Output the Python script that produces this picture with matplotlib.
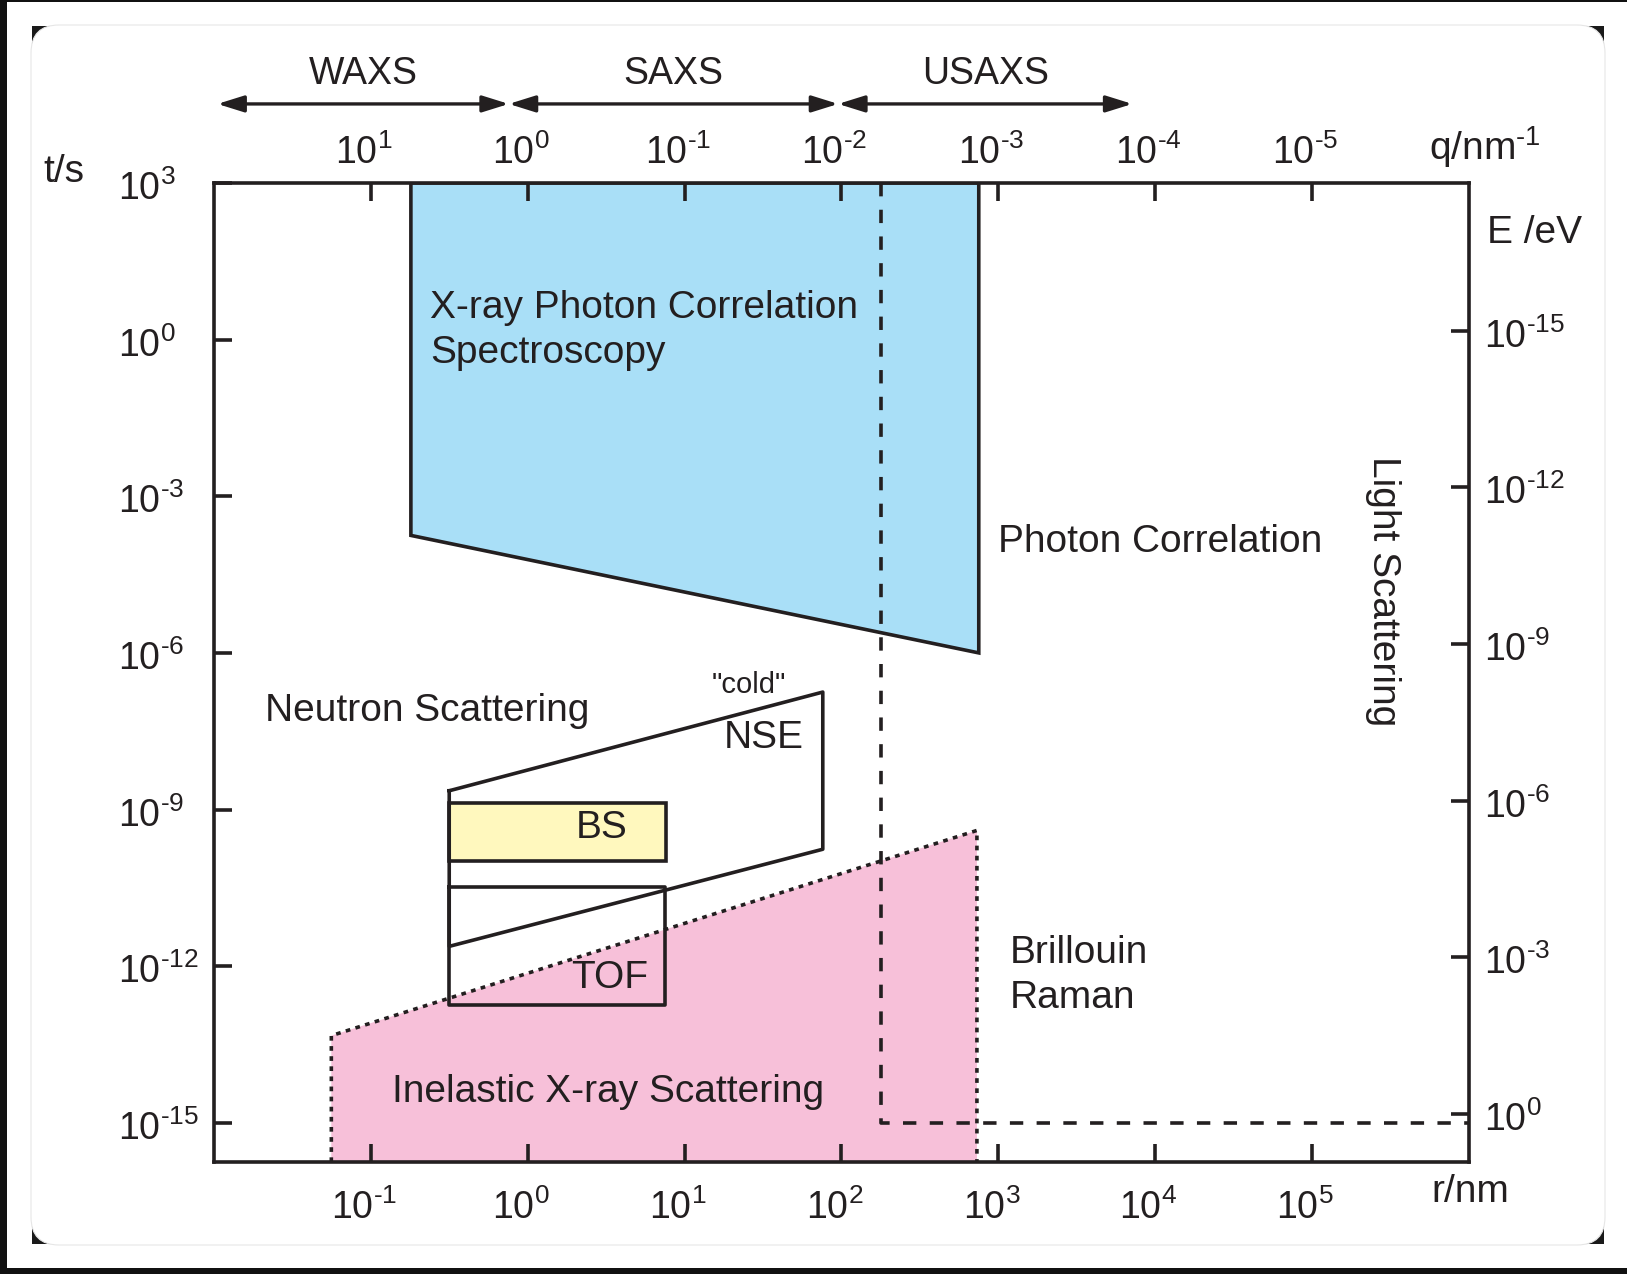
import matplotlib
matplotlib.use('Agg')
import matplotlib.pyplot as plt
import numpy as np
from matplotlib.patches import Rectangle, FancyBboxPatch
from matplotlib.transforms import IdentityTransform, ScaledTranslation
from matplotlib.ticker import FixedLocator, NullLocator, FuncFormatter

plt.rcParams['font.family'] = ['Liberation Sans', 'DejaVu Sans']
plt.rcParams['mathtext.fontset'] = 'custom'
plt.rcParams['mathtext.rm'] = 'Liberation Sans'
plt.rcParams['mathtext.it'] = 'Liberation Sans:italic'
plt.rcParams['mathtext.default'] = 'regular'

INK = '#231f20'
BLUE = '#a9dff7'
PINK = '#f7c0d9'
YELLOW = '#fff8be'
LW = 2.6

# axis ranges: r in nm (bottom), t in s (left)
r_lim = (1e-2, 1e6)
t_lim = (10**-15.75, 1e3)
E_const = 10**-14.83   # E/eV = E_const / (t/s) on the right axis

# tick exponents
r_ticks = [-1, 0, 1, 2, 3, 4, 5]
q_ticks = [1, 0, -1, -2, -3, -4, -5]
t_ticks = [3, 0, -3, -6, -9, -12, -15]
E_ticks = [-15, -12, -9, -6, -3, 0]

# technique regions (r/nm, t/s)
xpcs_r = [0.18, 0.18, 750, 750]
xpcs_t = [1e3, 10**-3.75, 1e-6, 1e3]
ixs_r = [0.056, 0.056, 730, 730]
ixs_t = [t_lim[0], 10**-13.33, 10**-9.40, t_lim[0]]
nse_r = [0.316, 76, 76, 0.316, 0.316]
nse_t = [10**-8.64, 10**-6.75, 10**-9.76, 10**-11.62, 10**-8.64]
bs_r = [0.316, 7.6, 7.6, 0.316]
bs_t = [10**-8.88, 10**-8.88, 10**-9.99, 10**-9.99]
tof_r = [0.316, 7.5, 7.5, 0.316, 0.316]
tof_t = [10**-10.49, 10**-10.49, 10**-12.74, 10**-12.74, 10**-10.49]
ls_r = [178, 178, 1e6]
ls_t = [1e3, 1e-15, 1e-15]

# scattering ranges along q (nm^-1)
ranges = ['WAXS', 'SAXS', 'USAXS']
range_q = [95, 1.32, 0.0105, 1.4e-4]

fig = plt.figure(figsize=(16.27, 12.74), dpi=100, facecolor='white')

# screenshot frame: dark edges, rounded white card with dark corners
px = IdentityTransform()
for x, y, w, h in [(0, 1272, 1627, 2), (0, 0, 7, 1274), (0, 0, 1627, 6)]:
    fig.add_artist(Rectangle((x, y), w, h, transform=px, facecolor='#111111',
                             edgecolor='none', zorder=-20))
fig.add_artist(Rectangle((32, 30), 1572, 1218, transform=px, facecolor='#1a1a1a',
                         edgecolor='none', zorder=-19))
fig.add_artist(FancyBboxPatch((31, 29), 1574, 1220, boxstyle='round,pad=0,rounding_size=28',
                              transform=px, facecolor='white', edgecolor='#e6e6e6',
                              lw=0.8, zorder=-18))

ax = fig.add_axes([0.1315, 0.0879, 0.7714, 0.7685])
ax.patch.set_alpha(0)
ax.set_xscale('log')
ax.set_yscale('log')
ax.set_xlim(*r_lim)
ax.set_ylim(*t_lim)

# regions
ax.fill(ixs_r, ixs_t, facecolor=PINK, edgecolor='none', zorder=1)
ax.plot(ixs_r, ixs_t, color=INK, lw=LW, linestyle=(0, (1.3, 1.5)), zorder=3)
ax.fill(xpcs_r, xpcs_t, facecolor=BLUE, edgecolor=INK, lw=LW, zorder=2)
ax.fill(bs_r, bs_t, facecolor=YELLOW, edgecolor=INK, lw=LW, zorder=4)
ax.plot(nse_r, nse_t, color=INK, lw=LW, zorder=4)
ax.plot(tof_r, tof_t, color=INK, lw=LW, zorder=4)
ax.plot(ls_r, ls_t, color=INK, lw=LW, dashes=(3.7, 3.7), zorder=5)

fs = 28
txt = dict(fontsize=fs, color=INK, zorder=7)
ax.text(0.24, 1.5, 'X-ray Photon Correlation\nSpectroscopy', ha='left', va='center',
        linespacing=1.32, **txt)
ax.text(1000, 10**-3.87, 'Photon Correlation', ha='left', va='center', **txt)
ax.text(10**5.454, 10**-4.82, 'Light Scattering', rotation=-90, ha='center',
        va='center', **txt)
ax.text(10**-1.672, 10**-7.11, 'Neutron Scattering', ha='left', va='center', **txt)
ax.text(10**1.41, 10**-6.61, '"cold"', fontsize=21, color=INK, zorder=7,
        ha='center', va='center')
ax.text(10**1.504, 10**-7.63, 'NSE', ha='center', va='center', **txt)
ax.text(10**0.472, 10**-9.36, 'BS', ha='center', va='center', **txt)
ax.text(10**0.524, 10**-12.22, 'TOF', ha='center', va='center', **txt)
ax.text(10**0.511, 10**-14.41, 'Inelastic X-ray Scattering', ha='center',
        va='center', **txt)
ax.text(10**3.07, 10**-12.17, 'Brillouin\nRaman', ha='left', va='center',
        linespacing=1.32, **txt)

# WAXS / SAXS / USAXS arrows above the plot
trans = ax.get_xaxis_transform()
for i, name in enumerate(ranges):
    r0, r1 = 1 / range_q[i], 1 / range_q[i + 1]
    ax.annotate('', xy=(r1, 1.0807), xytext=(r0, 1.0807), xycoords=trans,
                textcoords=trans, annotation_clip=False,
                arrowprops=dict(arrowstyle='<|-|>,head_length=0.8,head_width=0.25',
                                mutation_scale=20, lw=2.4, color=INK,
                                shrinkA=0, shrinkB=0))
    ax.text(np.sqrt(r0 * r1), 1.111, name, transform=trans, fontsize=27,
            color=INK, ha='center', va='center')


def pow_fmt(v, pos):
    e = int(round(np.log10(v)))
    s = '\u2010%d' % -e if e < 0 else '%d' % e
    return '$10^{%s}$' % s


tick_kw = dict(direction='in', length=13, width=LW, color=INK,
               labelsize=27, labelcolor=INK)

ax.xaxis.set_major_locator(FixedLocator([10.0**e for e in r_ticks]))
ax.yaxis.set_major_locator(FixedLocator([10.0**e for e in t_ticks]))
ax.xaxis.set_minor_locator(NullLocator())
ax.yaxis.set_minor_locator(NullLocator())
ax.xaxis.set_major_formatter(FuncFormatter(pow_fmt))
ax.yaxis.set_major_formatter(FuncFormatter(pow_fmt))
ax.tick_params(top=False, right=False, **tick_kw)
ax.tick_params(axis='x', pad=20)
ax.tick_params(axis='y', pad=69)
for sp in ax.spines.values():
    sp.set_linewidth(LW)
    sp.set_color(INK)
    sp.set_zorder(6)

# top axis: q = 1/r
axt = ax.twiny()
axt.set_xscale('log')
axt.set_xlim(1 / r_lim[0], 1 / r_lim[1])
axt.xaxis.set_major_locator(FixedLocator([10.0**e for e in q_ticks]))
axt.xaxis.set_minor_locator(NullLocator())
axt.xaxis.set_major_formatter(FuncFormatter(pow_fmt))
axt.tick_params(axis='x', pad=8, **tick_kw)
for sp in axt.spines.values():
    sp.set_visible(False)

# right axis: energy
axr = ax.twinx()
axr.set_yscale('log')
axr.set_ylim(E_const / t_lim[0], E_const / t_lim[1])
axr.yaxis.set_major_locator(FixedLocator([10.0**e for e in E_ticks]))
axr.yaxis.set_minor_locator(NullLocator())
axr.yaxis.set_major_formatter(FuncFormatter(pow_fmt))
axr.tick_params(axis='y', pad=11, **tick_kw)
for sp in axr.spines.values():
    sp.set_visible(False)

# small label nudges to match the original typesetting
down = ScaledTranslation(0, -4.5 / 72, fig.dpi_scale_trans)
left = ScaledTranslation(-5 / 72, 0, fig.dpi_scale_trans)
for lab in ax.get_yticklabels():
    lab.set_horizontalalignment('left')
    lab.set_verticalalignment('center')
    lab.set_transform(lab.get_transform() + down)
for lab in axr.get_yticklabels():
    lab.set_verticalalignment('center')
    lab.set_transform(lab.get_transform() + down)
for lab in ax.get_xticklabels() + axt.get_xticklabels():
    lab.set_transform(lab.get_transform() + left)

# axis names
fig.text(0.0264, 0.857, 't/s', fontsize=fs, color=INK, ha='left', va='baseline')
fig.text(0.9127, 0.8744, 'q/nm$^{\u20101}$', fontsize=fs, color=INK, ha='center',
         va='baseline')
fig.text(0.914, 0.8093, 'E /eV', fontsize=fs, color=INK, ha='left', va='baseline')
fig.text(0.9035, 0.0565, 'r/nm', fontsize=fs, color=INK, ha='center', va='baseline')

fig.savefig('out.png', dpi=100, facecolor=fig.get_facecolor())
